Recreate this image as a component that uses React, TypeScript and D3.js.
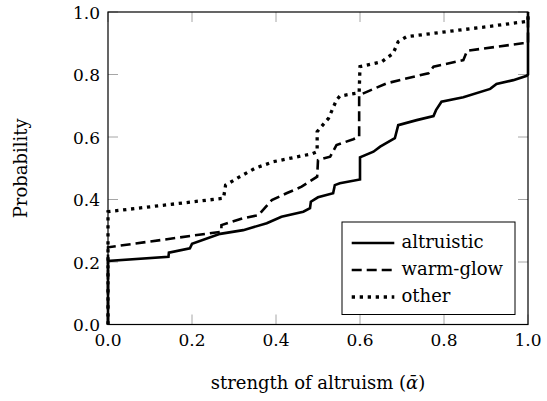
import React from "react";
import * as d3 from "d3";

const altruisticX = [0, 0, 0.144, 0.145, 0.195, 0.2, 0.267, 0.322, 0.378, 0.413, 0.465, 0.481, 0.483, 0.5, 0.536, 0.54, 0.552, 0.6, 0.6, 0.632, 0.648, 0.683, 0.691, 0.735, 0.775, 0.781, 0.794, 0.846, 0.91, 0.925, 0.965, 0.997, 1, 1];
const altruisticY = [0, 0.203, 0.217, 0.23, 0.244, 0.258, 0.29, 0.302, 0.324, 0.345, 0.361, 0.372, 0.393, 0.407, 0.42, 0.446, 0.452, 0.464, 0.535, 0.553, 0.569, 0.596, 0.638, 0.654, 0.667, 0.686, 0.713, 0.727, 0.754, 0.77, 0.782, 0.796, 0.8, 1];

const warmGlowX = [0, 0, 0.27, 0.27, 0.322, 0.358, 0.39, 0.425, 0.461, 0.498, 0.5, 0.529, 0.544, 0.584, 0.598, 0.598, 0.664, 0.763, 0.775, 0.846, 0.855, 0.987, 1, 1];
const warmGlowY = [0, 0.247, 0.297, 0.318, 0.34, 0.35, 0.398, 0.42, 0.441, 0.473, 0.526, 0.537, 0.574, 0.593, 0.601, 0.734, 0.772, 0.804, 0.825, 0.846, 0.876, 0.9, 0.9, 1];

const otherX = [0, 0, 0.275, 0.28, 0.314, 0.35, 0.394, 0.485, 0.498, 0.498, 0.525, 0.544, 0.552, 0.598, 0.6, 0.652, 0.679, 0.691, 0.711, 0.806, 0.902, 0.993, 1, 1];
const otherY = [0, 0.361, 0.404, 0.446, 0.473, 0.5, 0.521, 0.546, 0.553, 0.617, 0.66, 0.718, 0.731, 0.742, 0.825, 0.841, 0.868, 0.905, 0.921, 0.937, 0.953, 0.969, 0.97, 1];

const tickValues = [0, 0.2, 0.4, 0.6, 0.8, 1.0];
const tickLabels = ["0.0", "0.2", "0.4", "0.6", "0.8", "1.0"];
const seriesNames = ["altruistic", "warm-glow", "other"];

const W = 547;
const H = 401;
const FONT = "'DejaVu Serif', serif";

export default function App() {
  const x = d3.scaleLinear().domain([0, 1]).range([108, 528]);
  const y = d3.scaleLinear().domain([0, 1]).range([324.5, 12]);
  const line = d3
    .line<[number, number]>()
    .x((d) => x(d[0]))
    .y((d) => y(d[1]));

  const zip = (xs: number[], ys: number[]) =>
    xs.map((v, i) => [v, ys[i]] as [number, number]);

  const styles = [
    { width: 2.6, dash: undefined as string | undefined },
    { width: 2.6, dash: "10,5" },
    { width: 3.3, dash: "3.3,4.7" },
  ];
  const series = [
    zip(altruisticX, altruisticY),
    zip(warmGlowX, warmGlowY),
    zip(otherX, otherY),
  ];

  const tickLen = 10;
  const [x0, x1] = x.range();
  const [y0, y1] = y.range();

  const legendRows = [243, 270, 297];
  const ts = (size: number) => ({ fontFamily: FONT, fontSize: size });

  return (
    <svg
      width={W}
      height={H}
      style={{ position: "absolute", left: 0, top: 0, background: "#fff" }}
    >
      <rect x={0} y={0} width={W} height={H} fill="#fff" />
      {/* ticks */}
      <g stroke="#a6a6a6" strokeWidth={1}>
        {tickValues.map((t) => (
          <g key={"xt" + t}>
            <line x1={x(t)} x2={x(t)} y1={y0} y2={y0 - tickLen} />
            <line x1={x(t)} x2={x(t)} y1={y1} y2={y1 + tickLen} />
          </g>
        ))}
        {tickValues.map((t) => (
          <g key={"yt" + t}>
            <line x1={x0} x2={x0 + tickLen} y1={y(t)} y2={y(t)} />
            <line x1={x1} x2={x1 - tickLen} y1={y(t)} y2={y(t)} />
          </g>
        ))}
      </g>
      {/* curves */}
      {series.map((s, i) => (
        <path
          key={i}
          d={line(s) || ""}
          fill="none"
          stroke="#000"
          strokeWidth={styles[i].width}
          strokeDasharray={styles[i].dash}
        />
      ))}
      {/* frame */}
      <rect
        x={x0}
        y={y1}
        width={x1 - x0}
        height={y0 - y1}
        fill="none"
        stroke="#000"
        strokeWidth={1.2}
      />
      {/* tick labels */}
      {tickValues.map((t, i) => (
        <text key={"xl" + t} x={x(t)} y={346} textAnchor="middle" style={ts(17)} fill="#000">
          {tickLabels[i]}
        </text>
      ))}
      {tickValues.map((t, i) => (
        <text key={"yl" + t} x={100} y={y(t) + 6.5} textAnchor="end" style={ts(17)} fill="#000">
          {tickLabels[i]}
        </text>
      ))}
      {/* axis titles */}
      <text x={(x0 + x1) / 2} y={389} textAnchor="middle" style={ts(18)}>
        strength of altruism (<tspan fontStyle="italic">ᾱ</tspan>)
      </text>
      <text
        transform={`translate(27,${(y0 + y1) / 2}) rotate(-90)`}
        textAnchor="middle"
        style={ts(18)}
      >
        Probability
      </text>
      {/* legend */}
      <rect
        x={342}
        y={222}
        width={173}
        height={92.5}
        fill="#fff"
        stroke="#000"
        strokeWidth={1}
      />
      {seriesNames.map((name, i) => (
        <g key={name}>
          <line
            x1={351.7}
            x2={394.3}
            y1={legendRows[i]}
            y2={legendRows[i]}
            stroke="#000"
            strokeWidth={styles[i].width}
            strokeDasharray={styles[i].dash}
          />
          <text x={401.5} y={legendRows[i] + 5} style={ts(18)}>
            {name}
          </text>
        </g>
      ))}
    </svg>
  );
}
